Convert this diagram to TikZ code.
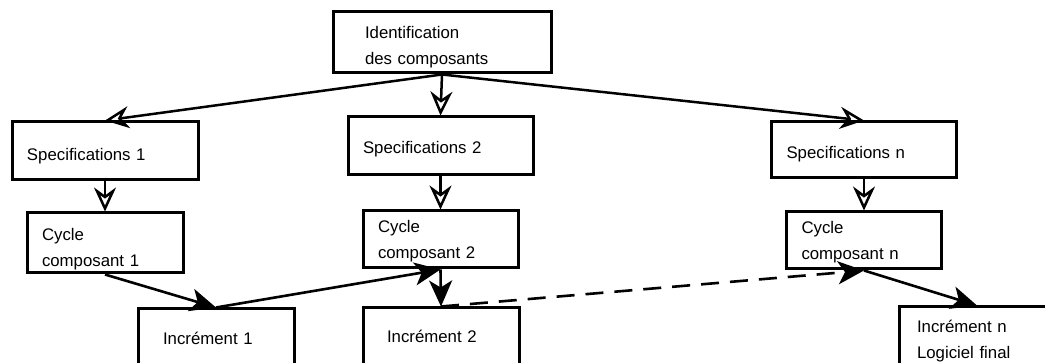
\documentclass[tikz,border=0pt]{standalone}
\usepackage{fontspec}
\setmainfont{Liberation Sans}
\usetikzlibrary{arrows.meta}

\tikzset{
	bloc/.style={draw, line width=3pt, align=left, inner ysep=0pt, text height=#1},
	bloc/.default=20pt,
	ouverte/.style={line width=2.5pt, -{Stealth[open, length=24pt, width=22pt, inset=8pt]}},
	pleine/.style={line width=2.6pt, -{Stealth[length=26pt, width=23pt, inset=7pt]}}
}

\begin{document}
\begin{tikzpicture}[x=1pt, y=-1pt, font=\fontsize{16.8}{26.5}\selectfont]
		\useasboundingbox (0,0) rectangle (1045,363);
		\clip (0,0) rectangle (1045,363);

		%boites
		\node (ident) at (442, 42.5) [bloc=21pt, minimum height=61pt, inner xsep=32pt, text width=154pt]{Identification\\des composants};

		\node (spec1) at (105, 151) [bloc=21.5pt, minimum height=58pt, inner xsep=15pt, text width=156pt]{Specifications 1};
		\node (spec2) at (440.5, 146) [bloc=17.5pt, minimum height=58pt, inner xsep=15pt, text width=155pt]{Specifications 2};
		\node (specn) at (864, 150) [bloc=19.5pt, minimum height=56pt, inner xsep=15pt, text width=155pt]{Specifications n};

		\node (cycle1) at (105, 243) [bloc=24pt, minimum height=60pt, inner xsep=15pt, text width=126pt]{Cycle\\composant 1};
		\node (cycle2) at (440.5, 239.5) [bloc=15pt, minimum height=57pt, inner xsep=15pt, text width=125pt]{Cycle\\composant 2};
		\node (cyclen) at (864, 240.5) [bloc=15pt, minimum height=57pt, inner xsep=15pt, text width=125pt]{Cycle\\composant n};

		\node (inc1) at (216, 340) [bloc=10pt, minimum height=62pt, inner xsep=25pt, text width=106pt]{Incrément 1};
		\node (inc2) at (441, 339) [bloc=8pt, minimum height=62pt, inner xsep=24pt, text width=108pt]{Incrément 2};
		\node (incn) at (977, 338) [bloc=18pt, minimum height=62pt, inner xsep=18pt, text width=120pt]{Incrément n\\Logiciel final};

		%fleches
		\draw[ouverte] (ident.south) -- (spec1.north);
		\draw[ouverte] (ident.south) -- (spec2.north);
		\draw[ouverte] (ident.south) -- (specn.north);

		\draw[ouverte] (spec1.south) -- (cycle1.north);
		\draw[ouverte] (spec2.south) -- (cycle2.north);
		\draw[ouverte] (specn.south) -- (cyclen.north);

		\draw[pleine] (cycle1.south) -- (inc1.north);
		\draw[pleine] (inc1.north) -- (cycle2.south);
		\draw[pleine] (cycle2.south) -- (inc2.north);
		\draw[pleine, dash pattern=on 18pt off 11pt] (inc2.north) -- (cyclen.south);
		\draw[pleine] (cyclen.south) -- (incn.north);
		\end{tikzpicture}
\end{document}
